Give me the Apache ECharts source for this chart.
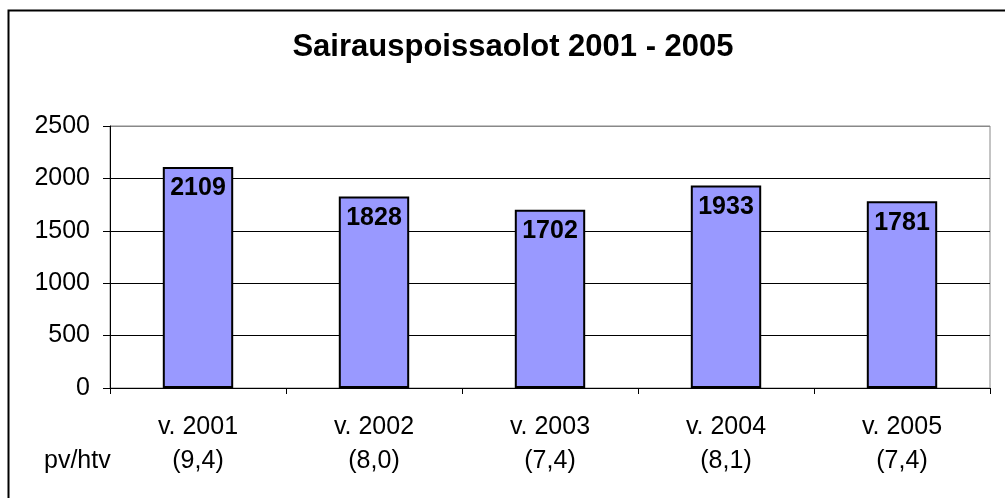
<!DOCTYPE html>
<html>
<head>
<meta charset="utf-8">
<script src="https://cdn.jsdelivr.net/npm/echarts@6/dist/echarts.min.js"></script>
<style>
  html, body { margin: 0; padding: 0; background: #fff; }
  #main { width: 1005px; height: 498px; }
</style>
</head>
<body>
<div id="main"></div>
<script>
// data
var years = ['v. 2001', 'v. 2002', 'v. 2003', 'v. 2004', 'v. 2005'];
var perHtv = ['(9,4)', '(8,0)', '(7,4)', '(8,1)', '(7,4)'];
var days = [2109, 1828, 1702, 1933, 1781];
var yTicks = [0, 500, 1000, 1500, 2000, 2500];

var chart = echarts.init(document.getElementById('main'));

var font = 'Liberation Sans, Arial, sans-serif';

option = {
  animation: false,
  title: {
    text: 'Sairauspoissaolot 2001 - 2005',
    left: 508,
    top: 27,
    textAlign: 'center',
    textStyle: { fontFamily: font, fontSize: 31, fontWeight: 'bold', color: '#000' }
  },
  grid: {
    left: 110,
    right: 15,
    top: 126,
    bottom: 110,
    show: true,
    borderColor: '#888',
    borderWidth: 1
  },
  xAxis: {
    type: 'category',
    data: years.map(function (y, i) { return y + '\n' + perHtv[i]; }),
    axisLine: { lineStyle: { color: '#000', width: 1 } },
    axisTick: { show: true, length: 6, lineStyle: { color: '#000' } },
    axisLabel: {
      fontFamily: font, fontSize: 25, color: '#000',
      lineHeight: 34, margin: 22
    }
  },
  yAxis: {
    type: 'value',
    min: yTicks[0],
    max: yTicks[yTicks.length - 1],
    interval: 500,
    axisLine: { show: true, lineStyle: { color: '#000', width: 1 } },
    axisTick: { show: true, length: 7, lineStyle: { color: '#000' } },
    axisLabel: {
      fontFamily: font, fontSize: 25, color: '#000', margin: 20,
      formatter: function (v) { return String(v); }
    },
    splitLine: {
      lineStyle: { color: ['#000', '#000', '#000', '#000', '#000', '#888'], width: 1 }
    }
  },
  series: [{
    type: 'bar',
    data: days,
    barWidth: '40%',
    itemStyle: { color: '#9999FF', borderColor: '#000', borderWidth: 2 },
    label: {
      show: true,
      position: 'insideTop',
      distance: 9,
      fontFamily: font, fontSize: 25, fontWeight: 'bold', color: '#000'
    }
  }],
  graphic: [
    {
      type: 'rect',
      shape: { x: 8.5, y: 10.5, width: 1100, height: 600 },
      style: { fill: 'none', stroke: '#000', lineWidth: 2 },
      silent: true
    },
    {
      type: 'text',
      left: 44,
      top: 449,
      style: { text: 'pv/htv', fontFamily: font, fontSize: 25, fill: '#000' }
    }
  ]
};

chart.setOption(option);
</script>
</body>
</html>
